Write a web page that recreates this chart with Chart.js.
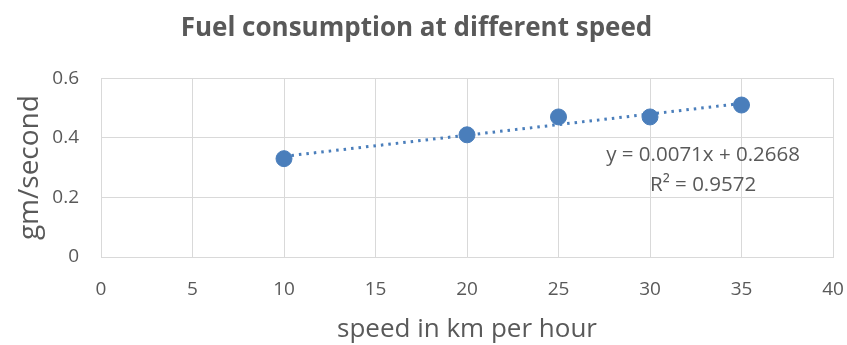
<!DOCTYPE html>
<html>
<head>
<meta charset="utf-8">
<script src="https://cdn.jsdelivr.net/npm/chart.js@4.4.1/dist/chart.umd.min.js"></script>
<style>
  html, body { margin: 0; padding: 0; background: #ffffff; }
  #wrap { width: 847px; height: 345px; }
</style>
</head>
<body>
<div id="wrap"><canvas id="c" width="847" height="345"></canvas></div>
<script>
// Measured fuel use at each speed
const speeds = [10, 20, 25, 30, 35];
const fuelRates = [0.33, 0.41, 0.47, 0.47, 0.51];

// Linear trend fitted to the measurements
const trendSlope = 0.0071;
const trendIntercept = 0.2668;
const trendR2 = 0.9572;

const xTicks = [0, 5, 10, 15, 20, 25, 30, 35, 40];
const yTicks = [0, 0.2, 0.4, 0.6];

const FONT = "'Open Sans', 'Liberation Sans', sans-serif";
const TEXT = '#595959';
const BLUE = '#4a7ebb';
const GRID = '#d9d9d9';

const trendFrom = Math.min(...speeds);
const trendTo = Math.max(...speeds);
const trendPoints = [trendFrom, trendTo].map(x => ({ x, y: trendIntercept + trendSlope * x }));

// Equation label drawn inside the plot area, anchored in data units
const equationLabel = {
  id: 'equationLabel',
  afterDatasetsDraw(chart) {
    const { ctx, scales } = chart;
    const cx = scales.x.getPixelForValue(32.9);
    ctx.save();
    ctx.fillStyle = TEXT;
    ctx.font = '20.5px ' + FONT;
    ctx.textAlign = 'center';
    ctx.textBaseline = 'middle';
    const sign = trendIntercept >= 0 ? '+' : '-';
    ctx.fillText('y = ' + trendSlope + 'x ' + sign + ' ' + Math.abs(trendIntercept), cx, scales.y.getPixelForValue(0.343));
    ctx.fillText('R\u00B2 = ' + trendR2, cx, scales.y.getPixelForValue(0.242));
    ctx.restore();
  }
};

new Chart(document.getElementById('c'), {
  type: 'scatter',
  data: {
    datasets: [
      {
        label: 'Fuel consumption',
        data: speeds.map((s, i) => ({ x: s, y: fuelRates[i] })),
        backgroundColor: BLUE,
        borderColor: BLUE,
        pointRadius: 8,
        pointHoverRadius: 8,
        order: 1
      },
      {
        type: 'line',
        label: 'Linear trend',
        data: trendPoints,
        borderColor: BLUE,
        borderWidth: 3,
        borderDash: [2.5, 5],
        pointRadius: 0,
        fill: false,
        order: 2
      }
    ]
  },
  options: {
    responsive: false,
    animation: false,
    layout: { padding: { left: 0, right: 14, top: 0, bottom: 0 } },
    plugins: {
      legend: { display: false },
      tooltip: { enabled: false },
      title: {
        display: true,
        text: 'Fuel consumption at different speed',
        color: TEXT,
        font: { family: FONT, size: 26, weight: 'bold', lineHeight: 1.2 },
        padding: { top: 13, bottom: 34 }
      }
    },
    scales: {
      x: {
        type: 'linear',
        min: 0,
        max: 40,
        afterBuildTicks(axis) { axis.ticks = xTicks.map(v => ({ value: v })); },
        afterFit(axis) { axis.height = 88; axis.paddingLeft = 0; axis.paddingRight = 0; },
        grid: { color: GRID, lineWidth: 1, drawTicks: false },
        border: { color: GRID },
        ticks: { color: TEXT, font: { family: FONT, size: 19 }, padding: 21 },
        title: {
          display: true,
          text: 'speed in km per hour',
          color: TEXT,
          font: { family: FONT, size: 26, lineHeight: 1.2 },
          padding: { top: 0, bottom: 0 }
        }
      },
      y: {
        type: 'linear',
        min: 0,
        max: 0.6,
        afterBuildTicks(axis) { axis.ticks = yTicks.map(v => ({ value: v })); },
        afterFit(axis) { axis.width = 101; axis.paddingTop = 0; axis.paddingBottom = 0; },
        grid: { color: GRID, lineWidth: 1, drawTicks: false },
        border: { color: GRID },
        ticks: { color: TEXT, font: { family: FONT, size: 19 }, padding: 22 },
        title: {
          display: true,
          text: 'gm/second',
          color: TEXT,
          font: { family: FONT, size: 28, lineHeight: 1.2 },
          padding: { top: 13, bottom: 0 }
        }
      }
    }
  },
  plugins: [equationLabel]
});
</script>
</body>
</html>
